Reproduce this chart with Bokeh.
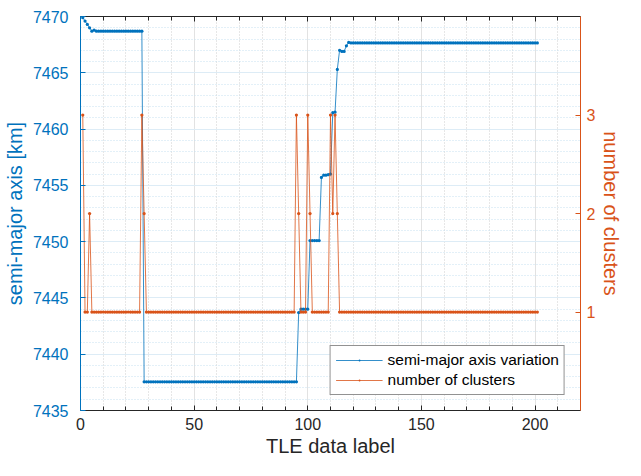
from bokeh.plotting import figure
from bokeh.models import (Range1d, LinearAxis, FixedTicker, Legend, LegendItem,
                          ColumnDataSource, Grid)
from bokeh.embed import file_html
from bokeh.resources import INLINE

# ---------------- data ----------------
tle_label = list(range(1, 202))

semi_major_axis = [
    7469.9, 7469.6, 7469.3, 7469.0, 7468.7, 7468.8, 7468.7, 7468.7, 7468.7, 7468.7,
    7468.7, 7468.7, 7468.7, 7468.7, 7468.7, 7468.7, 7468.7, 7468.7, 7468.7, 7468.7,
    7468.7, 7468.7, 7468.7, 7468.7, 7468.7, 7468.7, 7468.7, 7437.55, 7437.55, 7437.55,
    7437.55, 7437.55, 7437.55, 7437.55, 7437.55, 7437.55, 7437.55, 7437.55, 7437.55, 7437.55,
    7437.55, 7437.55, 7437.55, 7437.55, 7437.55, 7437.55, 7437.55, 7437.55, 7437.55, 7437.55,
    7437.55, 7437.55, 7437.55, 7437.55, 7437.55, 7437.55, 7437.55, 7437.55, 7437.55, 7437.55,
    7437.55, 7437.55, 7437.55, 7437.55, 7437.55, 7437.55, 7437.55, 7437.55, 7437.55, 7437.55,
    7437.55, 7437.55, 7437.55, 7437.55, 7437.55, 7437.55, 7437.55, 7437.55, 7437.55, 7437.55,
    7437.55, 7437.55, 7437.55, 7437.55, 7437.55, 7437.55, 7437.55, 7437.55, 7437.55, 7437.55,
    7437.55, 7437.55, 7437.55, 7437.55, 7437.55, 7443.7, 7444.0, 7444.0, 7444.0, 7444.0,
    7450.1, 7450.1, 7450.1, 7450.1, 7450.1, 7455.7, 7455.9, 7455.9, 7455.95, 7456.0,
    7461.45, 7461.5, 7465.3, 7467.0, 7466.9, 7466.9, 7467.4, 7467.7, 7467.65, 7467.65,
    7467.65, 7467.65, 7467.65, 7467.65, 7467.65, 7467.65, 7467.65, 7467.65, 7467.65, 7467.65,
    7467.65, 7467.65, 7467.65, 7467.65, 7467.65, 7467.65, 7467.65, 7467.65, 7467.65, 7467.65,
    7467.65, 7467.65, 7467.65, 7467.65, 7467.65, 7467.65, 7467.65, 7467.65, 7467.65, 7467.65,
    7467.65, 7467.65, 7467.65, 7467.65, 7467.65, 7467.65, 7467.65, 7467.65, 7467.65, 7467.65,
    7467.65, 7467.65, 7467.65, 7467.65, 7467.65, 7467.65, 7467.65, 7467.65, 7467.65, 7467.65,
    7467.65, 7467.65, 7467.65, 7467.65, 7467.65, 7467.65, 7467.65, 7467.65, 7467.65, 7467.65,
    7467.65, 7467.65, 7467.65, 7467.65, 7467.65, 7467.65, 7467.65, 7467.65, 7467.65, 7467.65,
    7467.65, 7467.65, 7467.65, 7467.65, 7467.65, 7467.65, 7467.65, 7467.65, 7467.65, 7467.65,
    7467.65,
]

n_clusters = [
    3, 1, 1, 2, 1, 1, 1, 1, 1, 1,
    1, 1, 1, 1, 1, 1, 1, 1, 1, 1,
    1, 1, 1, 1, 1, 1, 3, 2, 1, 1,
    1, 1, 1, 1, 1, 1, 1, 1, 1, 1,
    1, 1, 1, 1, 1, 1, 1, 1, 1, 1,
    1, 1, 1, 1, 1, 1, 1, 1, 1, 1,
    1, 1, 1, 1, 1, 1, 1, 1, 1, 1,
    1, 1, 1, 1, 1, 1, 1, 1, 1, 1,
    1, 1, 1, 1, 1, 1, 1, 1, 1, 1,
    1, 1, 1, 1, 3, 2, 1, 1, 1, 3,
    2, 1, 1, 1, 1, 1, 1, 1, 1, 3,
    2, 3, 2, 1, 1, 1, 1, 1, 1, 1,
    1, 1, 1, 1, 1, 1, 1, 1, 1, 1,
    1, 1, 1, 1, 1, 1, 1, 1, 1, 1,
    1, 1, 1, 1, 1, 1, 1, 1, 1, 1,
    1, 1, 1, 1, 1, 1, 1, 1, 1, 1,
    1, 1, 1, 1, 1, 1, 1, 1, 1, 1,
    1, 1, 1, 1, 1, 1, 1, 1, 1, 1,
    1, 1, 1, 1, 1, 1, 1, 1, 1, 1,
    1, 1, 1, 1, 1, 1, 1, 1, 1, 1,
    1,
]

x_ticks = [0, 50, 100, 150, 200]
x_minor = [10, 20, 30, 40, 60, 70, 80, 90, 110, 120, 130, 140, 160, 170, 180, 190, 210, 220]
y_ticks = [7435, 7440, 7445, 7450, 7455, 7460, 7465, 7470]
y_minor = [v for v in range(7436, 7470) if v % 5 != 0]
r_ticks = [1, 2, 3]

BLUE = "#0072BD"
ORANGE = "#D95319"
DARK = "#262626"
FONT = "Liberation Sans"

src = ColumnDataSource(dict(x=tle_label, a=semi_major_axis, n=n_clusters))

p = figure(width=625, height=460, x_range=Range1d(0, 220), y_range=Range1d(7435, 7470),
           output_backend="svg", toolbar_location=None,
           x_axis_location=None, y_axis_location=None,
           min_border_left=80, min_border_right=42, min_border_top=16, min_border_bottom=50)
p.extra_y_ranges = {"right": Range1d(0, 4)}
p.outline_line_color = None
p.background_fill_color = "white"
p.border_fill_color = "white"

xticker = FixedTicker(ticks=x_ticks, minor_ticks=x_minor)
yticker = FixedTicker(ticks=y_ticks, minor_ticks=y_minor)

# grids
xgrid = Grid(dimension=0, ticker=xticker, grid_line_color="#e2e2e2", grid_line_width=1,
             minor_grid_line_color="#cfcfcf", minor_grid_line_dash="1 2", minor_grid_line_width=1)
ygrid = Grid(dimension=1, ticker=yticker, grid_line_color="#ddecf6", grid_line_width=1,
             minor_grid_line_color="#c6e0f0", minor_grid_line_dash="1 2", minor_grid_line_width=1)
p.add_layout(xgrid)
p.add_layout(ygrid)

# bottom axis
xaxis = LinearAxis(ticker=xticker, axis_label="TLE data label",
                   axis_line_color=DARK, major_tick_line_color=DARK, minor_tick_line_color=DARK,
                   major_tick_in=5, major_tick_out=0, minor_tick_in=4, minor_tick_out=0,
                   major_label_standoff=7, axis_label_standoff=2,
                   major_label_text_font=FONT, major_label_text_font_size="16px",
                   major_label_text_color=DARK,
                   axis_label_text_font=FONT, axis_label_text_font_size="20px",
                   axis_label_text_font_style="normal", axis_label_text_color=DARK)
p.add_layout(xaxis, "below")

# top axis (ticks only)
top = LinearAxis(ticker=xticker, axis_line_color=DARK, major_tick_line_color=DARK,
                 minor_tick_line_color=DARK, major_tick_in=5, major_tick_out=0,
                 minor_tick_in=4, minor_tick_out=0, major_label_standoff=0,
                 major_label_text_font_size="0px", major_label_text_alpha=0)
p.add_layout(top, "above")

# left axis
yleft = LinearAxis(ticker=yticker, axis_label="semi-major axis [km]",
                   axis_line_color=BLUE, major_tick_line_color=BLUE, minor_tick_line_color=None,
                   major_tick_in=5, major_tick_out=0,
                   major_label_standoff=8, axis_label_standoff=4,
                   major_label_text_font=FONT, major_label_text_font_size="16px",
                   major_label_text_color=BLUE,
                   axis_label_text_font=FONT, axis_label_text_font_size="20px",
                   axis_label_text_font_style="normal", axis_label_text_color=BLUE)
p.add_layout(yleft, "left")

# right axis
yright = LinearAxis(y_range_name="right", ticker=FixedTicker(ticks=r_ticks),
                    axis_label="number of clusters",
                    axis_line_color=ORANGE, major_tick_line_color=ORANGE, minor_tick_line_color=None,
                    major_tick_in=5, major_tick_out=0,
                    major_label_standoff=6, axis_label_standoff=2,
                    major_label_text_font=FONT, major_label_text_font_size="16px",
                    major_label_text_color=ORANGE,
                    axis_label_text_font=FONT, axis_label_text_font_size="20px",
                    axis_label_text_font_style="normal", axis_label_text_color=ORANGE)
p.add_layout(yright, "right")

# series
l1 = p.line("x", "a", source=src, line_color=BLUE, line_width=0.8)
s1 = p.scatter("x", "a", source=src, size=13, marker="dot", fill_color=BLUE, line_color=BLUE)
l2 = p.line("x", "n", source=src, line_color=ORANGE, line_width=0.8, y_range_name="right")
s2 = p.scatter("x", "n", source=src, size=13, marker="dot", fill_color=ORANGE,
               line_color=ORANGE, y_range_name="right")

legend = Legend(items=[LegendItem(label="semi-major axis variation", renderers=[l1, s1]),
                       LegendItem(label="number of clusters", renderers=[l2, s2])],
                location="bottom_right", margin=15, padding=5, spacing=2,
                glyph_width=47, glyph_height=18, label_height=18, label_standoff=5,
                label_text_font=FONT, label_text_font_size="15.5px", label_text_color="black",
                border_line_color=DARK, border_line_width=1,
                background_fill_color="white", background_fill_alpha=1)
p.add_layout(legend)

open("out.html", "w").write(file_html(p, INLINE))
